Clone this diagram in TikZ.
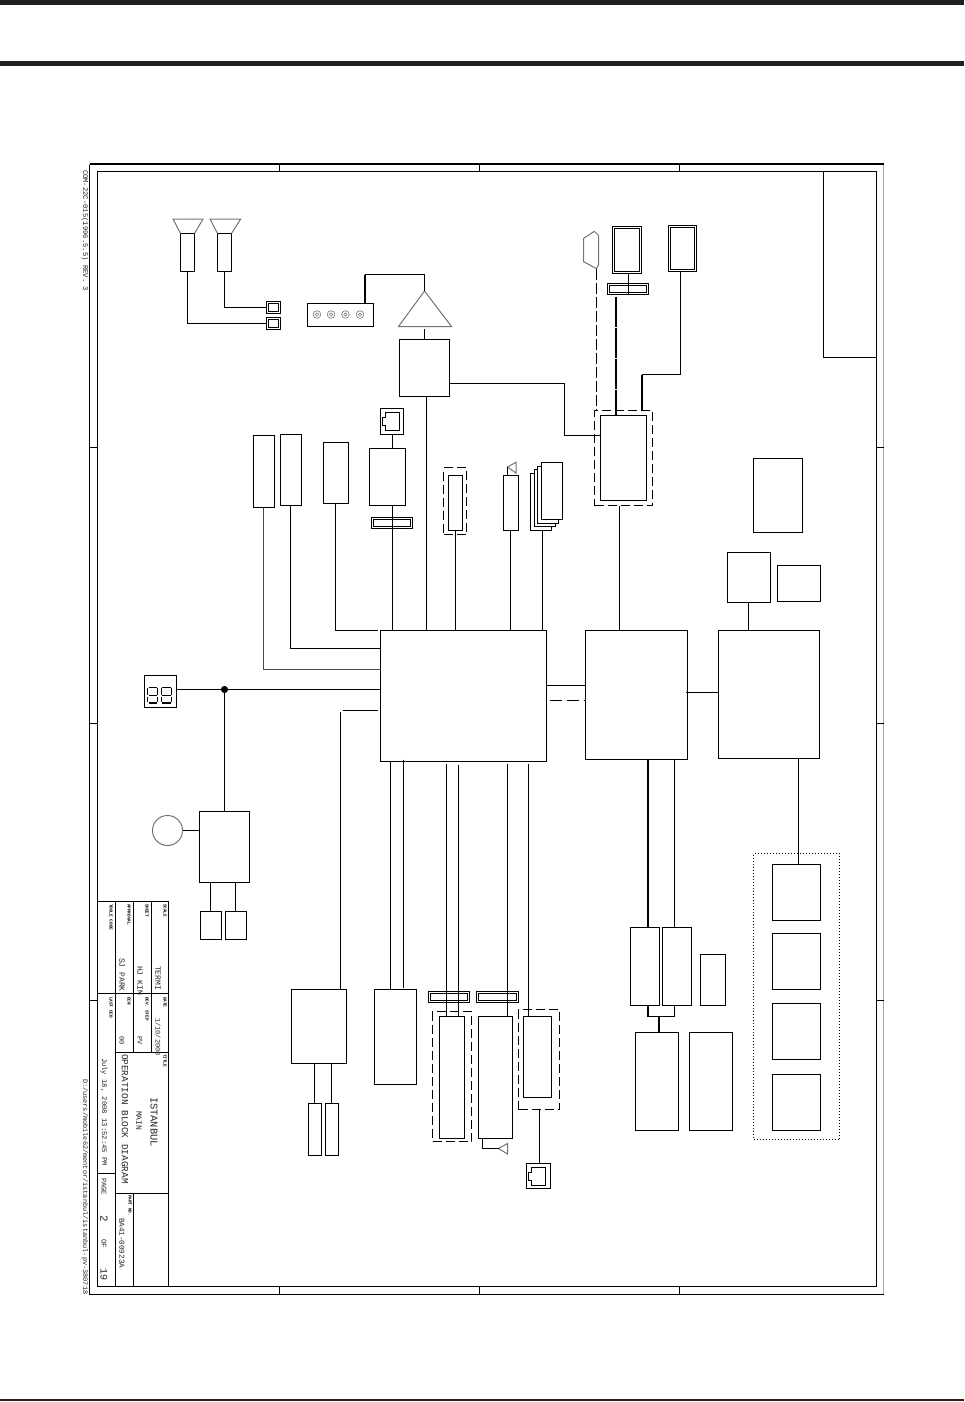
\documentclass[tikz,border=0pt]{standalone}
\usepackage{fontspec}
\setmainfont{Liberation Mono}
\usetikzlibrary{shapes,positioning,calc}
\definecolor{barblack}{HTML}{231F20}
\tikzset{
  blk/.style 2 args={draw,rectangle,line width=1pt,inner sep=0pt,outer sep=0pt,anchor=north west,minimum width=#1pt,minimum height=#2pt},
  dbl/.style 2 args={blk={#1}{#2},double,double distance=1pt,line width=1pt},
  dashbox/.style 2 args={blk={#1}{#2},dash pattern=on 9pt off 4pt},
  wire/.style={line width=1pt},
  bus/.style={line width=2pt},
  plotgray/.style={draw=black!55,line width=1pt},
  vtext/.style={rotate=-90,anchor=west,inner sep=0pt,outer sep=0pt,text=black!85},
  tiny label/.style={vtext,text=black,font=\bfseries\fontsize{4.4}{5}\selectfont},
}
\begin{document}
\begin{tikzpicture}[x=1pt,y=-1pt,every node/.style={font=\small}]
\useasboundingbox (0,0) rectangle (964,1402);

% Page bars
\fill[barblack] (0,0) rectangle (964,4.7);
\fill[barblack] (0,61) rectangle (964,66);
\fill[barblack] (0,1399) rectangle (964,1401);

% Drawing frame
\node[blk={794}{1129.5},draw=black!35] (outerframe) at (89.5,164.5) {};
\node[blk={779}{1114.5}] (innerframe) at (97.5,171.5) {};
\draw[line width=2pt] ([yshift=.5pt]outerframe.north west) -- ([yshift=.5pt]outerframe.north east);
\draw[wire] (outerframe.north west) -- (outerframe.south west) -- (outerframe.south east);
\foreach \x in {279.5,479.5,679.5} {
  \draw[wire] (\x,164.5) -- (\x,171.5);
  \draw[wire] (\x,1286) -- (\x,1294);
}
\foreach \y in {447.5,723.5,1000.5} {
  \draw[wire] (89.5,\y) -- (97.5,\y);
  \draw[wire] (876.5,\y) -- (883.5,\y);
}
\node[blk={53}{186}] (cornerbox) at (823.5,171.5) {};
\node[vtext,font=\fontsize{7.2}{8}\selectfont] (formno) at (85,170) {COM-22C-015(1996.5.5) REV. 3};
\node[vtext,font=\fontsize{6.9}{8}\selectfont] (filepath) at (85,1079) {D:/users/mobile62/mentor/istanbul/istanbul-pv-380718};

% Title block
\draw[wire] (97.5,901.5) -- (168.5,901.5) -- (168.5,1286);
\draw[wire] (115.5,901.5) -- (115.5,1286);
\draw[wire] (133.5,901.5) -- (133.5,1052.5);
\draw[wire] (151.5,901.5) -- (151.5,1052.5);
\draw[wire] (97.5,993.5) -- (168.5,993.5);
\draw[wire] (115.5,1052.5) -- (168.5,1052.5);
\draw[wire] (97.5,1173.5) -- (115.5,1173.5);
\draw[wire] (115.5,1193.5) -- (168.5,1193.5);
\draw[wire] (133.5,1193.5) -- (133.5,1286);

\node[tiny label] (lblscale) at (165,904) {SCALE};
\node[tiny label] (lblsheet) at (147,904) {SHEET};
\node[tiny label] (lblappr) at (129,904) {APPROVAL};
\node[tiny label] (lbltool) at (111,904) {TOOLE CODE};
\node[tiny label] (lbldate) at (165,997) {DATE};
\node[tiny label] (lbldev) at (147,997) {DEV. STEP};
\node[tiny label] (lblecn) at (129,997) {ECN};
\node[tiny label] (lbllast) at (111,997) {LAST CED};
\node[tiny label] (lbltitle) at (165,1054) {TITLE};
\node[tiny label] (lblpart) at (130,1195) {PART NO.};
\node[vtext,font=\fontsize{8}{9}\selectfont] (valterm) at (158,966) {TERMI};
\node[vtext,font=\fontsize{8}{9}\selectfont] (valkim) at (140,966) {HJ KIM};
\node[vtext,font=\fontsize{8}{9}\selectfont] (valpark) at (122,958) {SJ PARK};
\node[vtext,font=\fontsize{7}{8}\selectfont] (valdate) at (158,1018) {1/10/2008};
\node[vtext,font=\fontsize{7}{8}\selectfont] (valpv) at (140,1036) {PV};
\node[vtext,font=\fontsize{7}{8}\selectfont] (valecn) at (122,1036) {00};
\node[vtext,font=\fontsize{10.4}{12}\selectfont] (ttlname) at (154,1097) {ISTANBUL};
\node[vtext,font=\fontsize{8}{9}\selectfont] (ttlsub) at (139,1111) {MAIN};
\node[vtext,font=\fontsize{9.4}{11}\selectfont] (ttlop) at (125,1054) {OPERATION BLOCK DIAGRAM};
\node[vtext,font=\fontsize{7.2}{9}\selectfont] (ttlstamp) at (104,1058) {July 18, 2008 13:52:45 PM};
\node[vtext,font=\fontsize{7.2}{9}\selectfont] (ttlpage) at (104,1178) {PAGE};
\node[vtext,font=\fontsize{11}{12}\selectfont] (ttlnum) at (104,1215) {2};
\node[vtext,font=\fontsize{7.2}{9}\selectfont] (ttlof) at (104,1239) {OF};
\node[vtext,font=\fontsize{10}{12}\selectfont] (ttltot) at (104,1268) {19};
\node[vtext,font=\fontsize{7.6}{9}\selectfont] (ttlpn) at (122,1218) {BA41-00923A};

% Speakers
\node[blk={14}{38}] (spka) at (180.5,233.5) {};
\node[blk={14}{38}] (spkb) at (217.5,233.5) {};
\draw[plotgray] (spka.north west) -- (173,219) -- (203,219) -- (spka.north east);
\draw[plotgray] (spkb.north west) -- (210,219) -- (240.7,219) -- (spkb.north east);
\node[blk={14}{12}] (jacka) at (266.5,301.5) {};
\node[blk={10}{8}] (jackaw) at (268.5,303.5) {};
\node[blk={14}{12}] (jackb) at (266.5,317.5) {};
\node[blk={10}{8}] (jackbw) at (268.5,319.5) {};
\draw[wire] (spkb.south) |- (jacka.west);
\draw[wire] (spka.south) |- (jackb.west);

% Audio output
\node[blk={66}{23}] (ports) at (307.5,303.5) {};
\foreach \x in {317,331,345.5,360} {
  \draw[black!55,line width=.6pt] (\x,314.5) circle (3.8pt);
  \draw[black!55,line width=.6pt] (\x,314.5) circle (1.8pt);
}
\coordinate (amptip) at (424.5,291);
\draw[plotgray] (amptip) -- (398.5,326.5) -- (451.5,326.5) -- cycle;
\node[blk={50}{57}] (ampbox) at (399.5,339.5) {};
\draw[wire] (ampbox.north) -- ++(0,-11);
\draw[bus] ([xshift=24pt]ports.north) -- ++(0,-29) coordinate (ampwire);
\draw[wire] (ampwire) -| (amptip);

% Video output
\node[dashbox={58}{95}] (viddash) at (594.5,410.5) {};
\node[blk={46}{85}] (vidbox) at (600.5,415.5) {};
\coordinate (vgatip) at (596.5,268.7);
\draw[plotgray] (583.7,238.3) -- (594.3,231.3) -- (598.7,235.7) -- (598.7,264.3) -- (vgatip) -- (583.7,261.7) -- cycle;
\draw[wire,dash pattern=on 11pt off 3pt] (vgatip) -- (vgatip |- viddash.north);
\node[dbl={27}{45}] (mona) at (613.5,227.5) {};
\node[dbl={39}{9}] (monconn) at (608.5,284.5) {};
\draw[wire] ([xshift=.5pt]monconn.north |- mona.south) -- ([xshift=.5pt]monconn.south);
\draw[bus,dash pattern=on 30pt off 1pt] ([xshift=-12pt,yshift=-3pt]monconn.south) -- ([xshift=-12pt]monconn.south |- vidbox.north);
\node[dbl={26}{44}] (monb) at (669.5,226.5) {};
\draw[line width=1.8pt] ([xshift=-1pt,yshift=1pt]monb.north west) -- ([xshift=1pt,yshift=1pt]monb.north east) -- ([xshift=1pt,yshift=-1pt]monb.south east);
\coordinate (monbend) at (641.5,374.5);
\draw[wire] ([xshift=-2pt]monb.south) |- (monbend);
\draw[bus] (monbend) -- (monbend |- viddash.north);
\coordinate (audturn) at (564.5,383.5);
\draw[wire] (audturn -| ampbox.east) -- (audturn) |- ([yshift=22.5pt]vidbox.west);

% Main blocks
\node[blk={166}{131}] (mainchip) at (380.5,630.5) {};
\node[blk={102}{129}] (midchip) at (585.5,630.5) {};
\node[blk={101}{128}] (rgtchip) at (718.5,630.5) {};
\draw[wire] (mainchip.east |- 0,685.5) -- (midchip.west |- 0,685.5);
\draw[wire,dash pattern=on 12pt off 5pt] ([xshift=3pt]mainchip.east |- 0,700.5) -- (midchip.west |- 0,700.5);
\draw[wire] ([xshift=-1.5pt]midchip.east |- 0,692.5) -- (rgtchip.west |- 0,692.5);
\draw[wire] ([xshift=-4pt]vidbox.south |- viddash.south) -- ([xshift=-4pt]vidbox.south |- midchip.north);

% Upper row of modules
\node[blk={21}{72}] (usba) at (253.5,435.5) {};
\node[blk={21}{71}] (usbb) at (280.5,434.5) {};
\node[blk={25}{61}] (cardbox) at (323.5,442.5) {};
\node[blk={36}{57}] (lanbox) at (369.5,448.5) {};
\node[blk={23}{26}] (lanup) at (380.5,408.5) {};
\node[dbl={39}{9}] (lanconn) at (372.5,518.5) {};
\node[dashbox={23}{67}] (hddash) at (443.5,467.5) {};
\node[blk={14}{55}] (hdbox) at (448.5,475.5) {};
\node[blk={15}{55}] (wlbox) at (503.5,475.5) {};
\draw[plotgray] (507.5,467) -- (516,462.3) -- (516,473) -- cycle;
\draw[wire] (507.5,467) -- (507.5,475.5);
\foreach \sx/\sy/\nm in {530.5/473.5/stackd,534.5/469.5/stackc,537.5/466.5/stackb,541.5/462.5/stacka} {
  \node[blk={21}{57}, fill=white] (\nm) at (\sx,\sy) {};
}
\draw[black!70,line width=1.3pt] ([xshift=-.5pt]usba.south) |- ([yshift=-39pt]mainchip.north west);
\draw[wire] ([xshift=-.5pt]usbb.south) |- ([yshift=-18pt]mainchip.north west);
\draw[wire] ([xshift=-.5pt]cardbox.south) |- ([xshift=-2.5pt]mainchip.north west);
\draw[wire] ([xshift=.5pt]lanup.south) -- ([xshift=.5pt]lanup.south |- lanbox.north);
\draw[wire] ([xshift=.5pt]lanup.south |- lanbox.south) -- ([xshift=.5pt]lanup.south |- mainchip.north);
\draw[wire] ([xshift=2pt]ampbox.south) -- ([xshift=2pt]ampbox.south |- mainchip.north);
\draw[wire] (hdbox.south) -- (hdbox.south |- mainchip.north);
\draw[wire] ([xshift=-.5pt]wlbox.south) -- ([xshift=-.5pt]wlbox.south |- mainchip.north);
\draw[wire] ([xshift=1.5pt]stackd.south) -- ([xshift=1.5pt]stackd.south |- mainchip.north);

% Right side modules
\node[blk={49}{74}] (flasha) at (753.5,458.5) {};
\node[blk={43}{50}] (flashb) at (727.5,552.5) {};
\node[blk={43}{36}] (flashc) at (777.5,565.5) {};
\draw[wire] ([xshift=-.5pt]flashb.south) -- ([xshift=-.5pt]flashb.south |- rgtchip.north);

% Panel boxes
\node[blk={86}{286},dash pattern=on 1pt off 2pt] (paneldots) at (753.5,853.5) {};
\foreach \nm/\y in {panela/864.5,panelb/933.5,panelc/1003.5,paneld/1074.5} {
  \node[blk={48}{56}] (\nm) at (772.5,\y) {};
}
\draw[wire] ([xshift=29.5pt]rgtchip.south) -- ([xshift=29.5pt]rgtchip.south |- panela.north);

% Memory
\node[blk={29}{78}] (mema) at (630.5,927.5) {};
\node[blk={29}{78}] (memb) at (662.5,927.5) {};
\node[blk={25}{51}] (memc) at (700.5,954.5) {};
\node[blk={43}{98}] (ddra) at (635.5,1032.5) {};
\node[blk={43}{98}] (ddrb) at (689.5,1032.5) {};
\draw[bus] ([xshift=3pt]mema.north |- midchip.south) -- ([xshift=3pt]mema.north);
\draw[wire] ([xshift=-2.5pt]memb.north |- midchip.south) -- ([xshift=-2.5pt]memb.north);
\coordinate (memjoin) at (659,1016.5);
\draw[bus] ([xshift=3pt]mema.south) -- ([xshift=3pt]mema.south |- memjoin);
\draw[wire] ([xshift=3pt]mema.south |- memjoin) -| ([xshift=-2.5pt]memb.south);
\draw[bus] (memjoin) -- (memjoin |- ddra.north);

% Display and micom
\node[blk={32}{32}] (digit) at (144.5,675.5) {};
\foreach \d in {0,13.5} {
  \begin{scope}[xshift=\d pt]
    \draw[line width=1pt] (148.5,687.5) -- (157,687.5);
    \draw[line width=1pt] (148.5,695.5) -- (157,695.5);
    \draw[line width=2pt] (148.5,703) -- (157,703);
    \draw[line width=1pt] (147.5,688) -- (147.5,694.5) (147.5,696.5) -- (147.5,702);
    \draw[line width=1pt] (157.5,688) -- (157.5,694.5) (157.5,696.5) -- (157.5,702);
  \end{scope}
}
\node[blk={50}{71}] (micbox) at (199.5,811.5) {};
\node[draw=black!55,circle,line width=1pt,minimum size=30pt,inner sep=0pt,outer sep=0pt] (irbox) at (167.5,830.5) {};
\node[blk={21}{28}] (keya) at (200.5,911.5) {};
\node[blk={21}{28}] (keyb) at (225.5,911.5) {};
\coordinate (jct) at (224.5,689.5);
\draw[wire] ([yshift=2pt]digit.east) -- ([yshift=2pt]digit.east -| mainchip.west);
\fill[black] (jct) circle (3.6pt);
\draw[wire] (micbox.north) -- (micbox.north |- jct);
\draw[wire] (irbox.east) -- (irbox.east -| micbox.west);
\draw[wire] ([xshift=-.5pt]keya.north |- micbox.south) -- ([xshift=-.5pt]keya.north);
\draw[wire] ([xshift=-.5pt]keyb.north |- micbox.south) -- ([xshift=-.5pt]keyb.north);

% Lower left modules
\node[blk={55}{74}] (tunbox) at (291.5,989.5) {};
\node[blk={42}{95}] (ifbox) at (374.5,989.5) {};
\node[blk={13}{52}] (tuna) at (308.5,1103.5) {};
\node[blk={13}{52}] (tunb) at (325.5,1103.5) {};
\draw[wire] ([xshift=-.5pt]tuna.north |- tunbox.south) -- ([xshift=-.5pt]tuna.north);
\draw[wire] ([xshift=-.5pt]tunb.north |- tunbox.south) -- ([xshift=-.5pt]tunb.north);
\draw[wire] ([xshift=21.5pt]tunbox.north) -- ++(0,-278);
\draw[wire] ([xshift=-2.5pt,yshift=-14.5pt]mainchip.west) -- ++(-35,0);
\draw[wire] ([xshift=-73pt]mainchip.south) -- ([xshift=-73pt]mainchip.south |- ifbox.north);
\draw[wire] ([xshift=-60pt,yshift=2pt]mainchip.south) -- ([xshift=-60pt,yshift=2pt]mainchip.south |- ifbox.north);

% Lower middle modules
\node[dbl={39}{9}] (connp) at (429.5,992.5) {};
\node[dbl={40}{9}] (connq) at (477.5,992.5) {};
\node[dashbox={39}{130}] (slotdash) at (432.5,1011.5) {};
\node[blk={25}{122}] (slotbox) at (439.5,1016.5) {};
\node[blk={34}{122}] (rfbox) at (478.5,1016.5) {};
\node[dashbox={41}{100}] (ethdash) at (518.5,1009.5) {};
\node[blk={28}{81}] (ethbox) at (523.5,1016.5) {};
\node[blk={24}{25}] (lanlo) at (526.5,1163.5) {};
\draw[wire] ([xshift=-17pt,yshift=-2pt]mainchip.south) -- ([xshift=-17pt]mainchip.south |- slotbox.north);
\draw[wire] ([xshift=-5pt,yshift=-3pt]mainchip.south) -- ([xshift=-5pt]mainchip.south |- slotbox.north);
\draw[wire] ([xshift=44pt,yshift=-2pt]mainchip.south) -- ([xshift=44pt]mainchip.south |- rfbox.north);
\draw[wire] ([xshift=65pt,yshift=-2pt]mainchip.south) -- ([xshift=65pt]mainchip.south |- ethbox.north);
\draw[wire] ([xshift=.5pt]ethdash.south) -- ([xshift=.5pt]ethdash.south |- lanlo.north);
\coordinate (rfant) at (498.5,1148.5);
\draw[plotgray] (rfant) -- (507.5,1143.5) -- (507.5,1154) -- cycle;
\draw[wire] ([xshift=-13pt]rfbox.south) |- (rfant);

% RJ45 sockets
\foreach \s in {lanup,lanlo} {
  \draw[wire,shift={(\s.north west)}] (5,4) -- (19,4) -- (19,22) -- (5,22) -- (5,17) -- (2,17) -- (2,9) -- (5,9) -- cycle;
}

\end{tikzpicture}
\end{document}
